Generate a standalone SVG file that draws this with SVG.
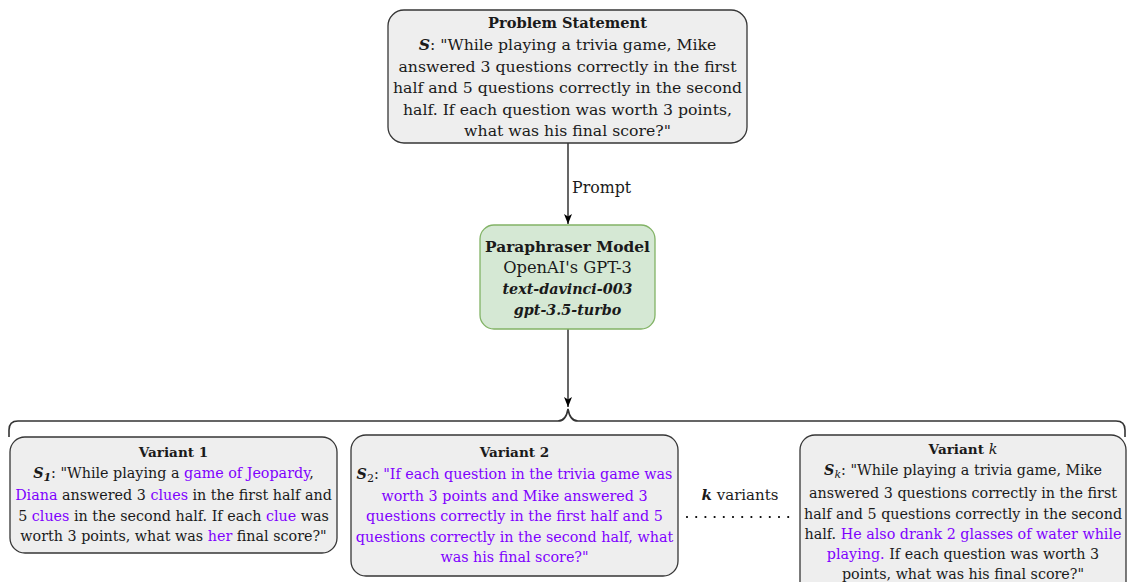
<svg xmlns="http://www.w3.org/2000/svg" width="1127" height="582" viewBox="0 0 1127 582">
  <defs>
    <style>
      .t { font-family: "DejaVu Serif", "Liberation Serif", serif; fill: #1a1a1a; }
      .box { fill: #eeeeee; stroke: #363636; stroke-width: 1.3; }
      .model { fill: #d5e8d4; stroke: #82b366; stroke-width: 1.3; }
      .b { font-weight: bold; }
      .bi { font-weight: bold; font-style: italic; }
      .i { font-style: italic; }
      .p { fill: #7f00ff; }
      .edge { fill: none; stroke: #000; stroke-width: 1.2; }
      .brace { fill: none; stroke: #333; stroke-width: 1.6; }
    </style>
    <marker id="arrow" viewBox="0 0 10 10" refX="10" refY="5" markerWidth="10" markerHeight="10" markerUnits="userSpaceOnUse" orient="auto">
      <path d="M0,1 L10,5 L0,9 L2.5,5 Z" fill="#000"/>
    </marker>
  </defs>

  <!-- connectors -->
  <g id="connectors">
    <path class="edge" d="M568,143 L568,224" marker-end="url(#arrow)"/>
    <text class="t" x="572" y="193" font-size="15.8">Prompt</text>
    <path class="edge" d="M568,329 L568,407" marker-end="url(#arrow)"/>
    <path class="brace" d="M9,437 L9,430 Q9,421 18,421 L558,421 Q566,421 568,409 Q570,421 578,421 L1116,421 Q1125,421 1125,430 L1125,437"/>
    <text class="t" x="740" y="500" font-size="15" text-anchor="middle"><tspan class="bi">k</tspan> variants</text>
    <line x1="687" y1="517" x2="790" y2="517" stroke="#000" stroke-width="2.2" stroke-linecap="round" stroke-dasharray="0 9.2"/>
  </g>

  <!-- problem statement -->
  <g id="problem">
    <rect class="box" x="388" y="10" width="359" height="133" rx="16"/>
    <g class="t" font-size="15.7" text-anchor="middle">
      <text x="567.5" y="28.3" class="b" font-size="14.6">Problem Statement</text>
      <text x="567.5" y="50"><tspan class="bi">S</tspan>: "While playing a trivia game, Mike</text>
      <text x="567.5" y="71.6">answered 3 questions correctly in the first</text>
      <text x="567.5" y="93.2">half and 5 questions correctly in the second</text>
      <text x="567.5" y="114.8">half. If each question was worth 3 points,</text>
      <text x="567.5" y="136.4">what was his final score?"</text>
    </g>
  </g>

  <!-- paraphraser model -->
  <g id="paraphraser">
    <rect class="model" x="480" y="225" width="175" height="104" rx="14"/>
    <g class="t" text-anchor="middle">
      <text x="567.5" y="251.7" font-size="15.4" class="b">Paraphraser Model</text>
      <text x="567.5" y="272.7" font-size="16.3">OpenAI's GPT-3</text>
      <text x="567.5" y="293.5" font-size="14.3" class="bi">text-davinci-003</text>
      <text x="567.5" y="315" font-size="14.3" class="bi">gpt-3.5-turbo</text>
    </g>
  </g>

  <!-- variant 1 -->
  <g id="variant1">
    <rect class="box" x="10" y="437" width="327" height="116" rx="15"/>
    <g class="t" font-size="14.3" text-anchor="middle">
      <text x="173.5" y="457" class="b" font-size="13.6">Variant 1</text>
      <text x="173.5" y="478"><tspan class="bi">S</tspan><tspan class="bi" font-size="11" dy="3">1</tspan><tspan dy="-3">: "While playing a </tspan><tspan class="p">game of Jeopardy</tspan>,</text>
      <text x="173.5" y="499.5"><tspan class="p">Diana</tspan> answered 3 <tspan class="p">clues</tspan> in the first half and</text>
      <text x="173.5" y="520.5">5 <tspan class="p">clues</tspan> in the second half. If each <tspan class="p">clue</tspan> was</text>
      <text x="173.5" y="541">worth 3 points, what was <tspan class="p">her</tspan> final score?"</text>
    </g>
  </g>

  <!-- variant 2 -->
  <g id="variant2">
    <rect class="box" x="351" y="435" width="327" height="141" rx="15"/>
    <g class="t" font-size="14.3" text-anchor="middle">
      <text x="514.5" y="457" class="b" font-size="13.6">Variant 2</text>
      <text x="514.5" y="478.5"><tspan class="bi">S</tspan><tspan font-size="11" dy="3">2</tspan><tspan dy="-3">: </tspan><tspan class="p">"If each question in the trivia game was</tspan></text>
      <text x="514.5" y="500.5" class="p">worth 3 points and Mike answered 3</text>
      <text x="514.5" y="521" class="p">questions correctly in the first half and 5</text>
      <text x="514.5" y="541.5" class="p">questions correctly in the second half, what</text>
      <text x="514.5" y="562" class="p">was his final score?"</text>
    </g>
  </g>

  <!-- variant k -->
  <g id="variantk">
    <rect class="box" x="800" y="435" width="326" height="165" rx="15"/>
    <g class="t" font-size="14.3" text-anchor="middle">
      <text x="963" y="453.5" font-size="13.6"><tspan class="b">Variant </tspan><tspan class="i" font-size="14.3">k</tspan></text>
      <text x="963" y="475"><tspan class="bi">S</tspan><tspan class="i" font-size="11" dy="3">k</tspan><tspan dy="-3">: "While playing a trivia game, Mike</tspan></text>
      <text x="963" y="498">answered 3 questions correctly in the first</text>
      <text x="963" y="518.5">half and 5 questions correctly in the second</text>
      <text x="963" y="538.5">half. <tspan class="p">He also drank 2 glasses of water while</tspan></text>
      <text x="963" y="559"><tspan class="p">playing.</tspan> If each question was worth 3</text>
      <text x="963" y="579">points, what was his final score?"</text>
    </g>
  </g>
</svg>
